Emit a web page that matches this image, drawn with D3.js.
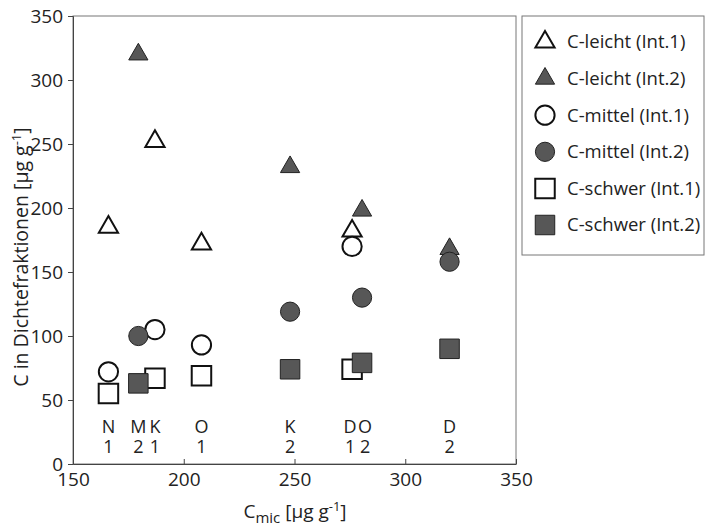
<!DOCTYPE html>
<html>
<head>
<meta charset="utf-8">
<script src="https://cdn.jsdelivr.net/npm/d3@7"></script>
<style>
  body { margin: 0; background: #fff; }
  svg { font-family: "Open Sans", sans-serif; }
  .axis path, .axis line { stroke: #444; }
  .axis text { font-size: 19px; fill: #222; font-family: "Open Sans", sans-serif; }
</style>
</head>
<body>
<div id="chart"></div>
<script>
// sites: label letter + interval number, x = Cmic
const sites = ['N1', 'M2', 'K1', 'O1', 'K2', 'D1', 'O2', 'D2'];
const cmic = [166, 179.5, 187, 208, 248, 276, 280.5, 320];

const leicht = [185, 320, 252, 172, 232, 182, 198, 168];
const mittel = [72, 100, 105, 93, 119, 170, 130, 158];
const schwer = [55, 63, 67, 69, 74, 74, 79, 90];

const xTicks = [150, 200, 250, 300, 350];
const yTicks = [0, 50, 100, 150, 200, 250, 300, 350];

const legendLabels = [
  'C-leicht (Int.1)', 'C-leicht (Int.2)',
  'C-mittel (Int.1)', 'C-mittel (Int.2)',
  'C-schwer (Int.1)', 'C-schwer (Int.2)'
];

const width = 705;
const height = 526;
const plot = { left: 73, right: 516, top: 16, bottom: 464 };

const svg = d3.select('#chart')
  .append('svg')
  .attr('width', width)
  .attr('height', height);

const x = d3.scaleLinear().domain([150, 350]).range([plot.left, plot.right]);
const y = d3.scaleLinear().domain([0, 350]).range([plot.bottom, plot.top]);

// frame
svg.append('rect')
  .attr('x', plot.left)
  .attr('y', plot.top)
  .attr('width', plot.right - plot.left)
  .attr('height', plot.bottom - plot.top)
  .attr('fill', 'none')
  .attr('stroke', '#777')
  .attr('stroke-width', 1);

svg.append('g')
  .attr('class', 'axis')
  .attr('transform', `translate(0, ${plot.bottom})`)
  .call(d3.axisBottom(x).tickValues(xTicks).tickSizeInner(-5).tickSizeOuter(0).tickPadding(9))
  .call(g => g.select('.domain').attr('stroke', '#333'));

svg.append('g')
  .attr('class', 'axis')
  .attr('transform', `translate(${plot.left}, 0)`)
  .call(d3.axisLeft(y).tickValues(yTicks).tickSize(5).tickPadding(5))
  .call(g => g.select('.domain').attr('stroke', '#888'));

// series definitions
const grey = '#575757';
const shapes = {
  tri: d3.symbol().type(d3.symbolTriangle).size(160),
  circ: d3.symbol().type(d3.symbolCircle).size(290),
  sq: d3.symbol().type(d3.symbolSquare).size(380)
};
const series = [
  { values: leicht, shape: 'tri' },
  { values: mittel, shape: 'circ' },
  { values: schwer, shape: 'sq' }
];

const styleOpen = sel => sel.attr('fill', '#fff').attr('stroke', '#111').attr('stroke-width', 2);
const styleFilled = sel => sel.attr('fill', grey).attr('stroke', '#222').attr('stroke-width', 1);

series.forEach(s => {
  const pts = sites.map((site, i) => ({ site, int: site[1], x: cmic[i], v: s.values[i] }));
  // Int.2 drawn after Int.1 so filled markers lie on top
  ['1', '2'].forEach(k => {
    svg.append('g')
      .selectAll('path')
      .data(pts.filter(d => d.int === k))
      .join('path')
      .attr('d', shapes[s.shape])
      .attr('transform', d => `translate(${x(d.x)}, ${y(d.v)})`)
      .call(k === '1' ? styleOpen : styleFilled);
  });
});

// site labels under the points
const labelShift = { D1: -2, O2: 3 };
const labels = svg.append('g')
  .attr('font-size', 18)
  .attr('fill', '#222')
  .attr('text-anchor', 'middle');
labels.selectAll('.lt')
  .data(sites)
  .join('text')
  .attr('x', (d, i) => x(cmic[i]) + (labelShift[d] || 0))
  .attr('y', y(24))
  .text(d => d[0]);
labels.selectAll('.ln')
  .data(sites)
  .join('text')
  .attr('x', (d, i) => x(cmic[i]) + (labelShift[d] || 0))
  .attr('y', y(8.5))
  .text(d => d[1]);

// axis titles
const yTitle = svg.append('text')
  .attr('transform', 'translate(28, 257) rotate(-90)')
  .attr('text-anchor', 'middle')
  .attr('font-size', 19.5)
  .attr('fill', '#222');
yTitle.append('tspan').text('C in Dichtefraktionen [µg g');
yTitle.append('tspan').attr('dy', -7).attr('font-size', 13).text('-1');
yTitle.append('tspan').attr('dy', 7).text(']');

const xTitle = svg.append('text')
  .attr('x', 295)
  .attr('y', 518)
  .attr('text-anchor', 'middle')
  .attr('font-size', 19)
  .attr('fill', '#222');
xTitle.append('tspan').text('C');
xTitle.append('tspan').attr('dy', 5).attr('font-size', 15).text('mic');
xTitle.append('tspan').attr('dy', -5).text(' [µg g');
xTitle.append('tspan').attr('dy', -7).attr('font-size', 13).text('-1');
xTitle.append('tspan').attr('dy', 7).text(']');

// legend
const legend = svg.append('g');
legend.append('rect')
  .attr('x', 522)
  .attr('y', 16)
  .attr('width', 182)
  .attr('height', 239)
  .attr('fill', '#fff')
  .attr('stroke', '#777');

const legendShapes = ['tri', 'tri', 'circ', 'circ', 'sq', 'sq'];
const legendRow = d3.scaleLinear().domain([0, 5]).range([42, 225]);
legendLabels.forEach((label, i) => {
  const row = legend.append('g').attr('transform', `translate(0, ${legendRow(i)})`);
  row.append('path')
    .attr('d', shapes[legendShapes[i]])
    .attr('transform', `translate(545, 0)`)
    .call(i % 2 === 0 ? styleOpen : styleFilled);
  row.append('text')
    .attr('x', 567)
    .attr('dy', '0.35em')
    .attr('font-size', 18.5)
    .attr('fill', '#222')
    .text(label);
});
</script>
</body>
</html>
